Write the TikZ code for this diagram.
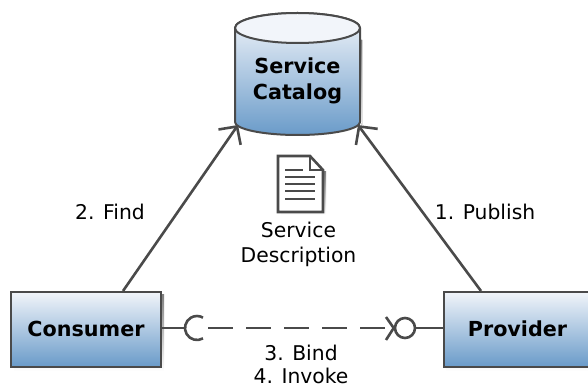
\documentclass[tikz,border=0pt]{standalone}
\usepackage{fontspec}
\setmainfont{DejaVu Sans}
\usetikzlibrary{arrows.meta,calc}
\definecolor{ink}{HTML}{4A4A4A}
\definecolor{topc}{HTML}{F2F5FA}
\definecolor{botc}{HTML}{6A9BC9}
\definecolor{shade}{HTML}{E2E2E2}
\tikzset{
  actor/.style={draw=ink,line width=2pt,top color=topc,bottom color=botc,minimum height=75pt,inner sep=0pt,font=\bfseries\fontsize{20.7}{24}\selectfont,text=black},
  conn/.style={draw=ink,line width=2.6pt},
  barb/.style={conn,-{Straight Barb[length=13pt,width=27pt,line width=2.6pt]}},
  lbl/.style={font=\fontsize{20.3}{25}\selectfont,text=black,align=center,inner sep=0pt},
}
\begin{document}
\begin{tikzpicture}[x=1pt,y=-1pt]
\useasboundingbox (0,0) rectangle (588,387);
% shadows
\fill[shade] (14,294) rectangle (164,371);
\fill[shade] (446,294) rectangle (600,371);
\fill[shade] (240,40) -- (240,125) arc[start angle=180,end angle=360,x radius=61,y radius=14] -- (362,40) -- cycle;
% cylinder
\path[draw=ink,line width=2pt,top color=topc,bottom color=botc]
  (235,28) -- (235,122) arc[start angle=180,end angle=360,x radius=62.5,y radius=-13] -- (360,28)
  arc[start angle=0,end angle=180,x radius=62.5,y radius=-15] -- cycle;
\draw[ink,line width=2pt,fill=topc] (297.5,28) ellipse[x radius=62.5,y radius=15];
\node[inner sep=0pt,align=center,font=\bfseries\fontsize{20.7}{26}\selectfont] (catalog) at (297.5,81) {Service\\Catalog};
\coordinate (catL) at (238,125);
\coordinate (catR) at (358,125);
% actors
\node[actor,minimum width=150pt] (consumer) at (86,329) {Consumer};
\node[actor,minimum width=150pt,anchor=west,text width=150pt,align=center] (provider) at (443,329) {\hspace*{-3pt}Provider};
\coordinate (consTop) at (123,291);
\coordinate (provTop) at (481,291);
% main connectors
\draw[barb] (consTop) -- (catL);
\draw[barb] (provTop) -- (catR);
% labels
\node[lbl] (find) at (110,212) {2. Find};
\node[lbl] (publish) at (485,212) {1. Publish};
\node[lbl] (desc) at (298.5,244) {Service\\Description};
\node[lbl,font=\fontsize{20.3}{23}\selectfont] (bind) at (301,364) {3. Bind\\4. Invoke};
% document icon
\fill[shade] (281,172) -- (326,172) -- (326,215) -- (281,215) -- cycle;
\path[draw=ink,line width=2.6pt,fill=white,line join=miter] (278,156) -- (310,156) -- (323,170) -- (323,212) -- (278,212) -- cycle;
\draw[ink,line width=1.6pt] (310,156) -- (310,170) -- (323,170);
\draw[ink,line width=1.2pt] (285,170) -- (303,170);
\foreach \yy in {177,184,191,199}{\draw[ink,line width=1.6pt] (285,\yy) -- (315,\yy);}
% interfaces
\coordinate (socket) at (185,328);
\coordinate (dashA) at (208,328);
\coordinate (dashB) at (385,328);
\node[circle,draw=ink,line width=2.6pt,fill=white,minimum size=20pt,inner sep=0pt] (ball) at (405,328) {};
\draw[conn] (consumer.east |- socket) -- (socket);
\draw[conn] (203,338.4) arc[start angle=60,end angle=300,radius=12];
\draw[conn,dash pattern=on 25pt off 13pt] (dashA) -- (dashB);
\draw[conn] (386,317) -- (ball.west) -- (386,340);
\draw[conn] (ball.east) -- (provider.west |- ball);
\end{tikzpicture}
\end{document}
